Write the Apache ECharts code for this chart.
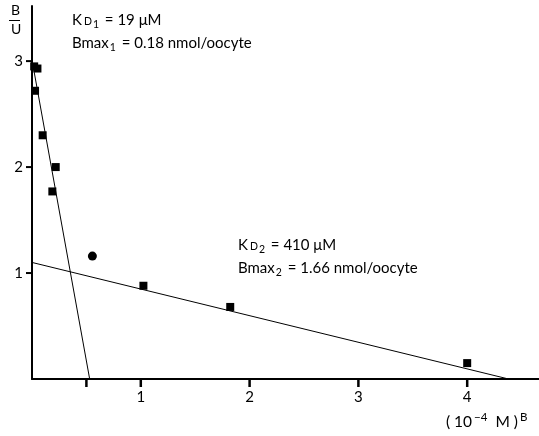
<!DOCTYPE html>
<html>
<head>
<meta charset="utf-8">
<script src="https://cdn.jsdelivr.net/npm/echarts@6/dist/echarts.min.js"></script>
<style>
html,body{margin:0;padding:0;background:#fff;}
#chart{width:539px;height:436px;}
</style>
</head>
<body>
<div id="chart"></div>
<script>
// Scatchard data (B in 10^-4 M, B/U)
const boundX = [0.02, 0.05, 0.028, 0.098, 0.218, 0.187, 0.555, 1.024, 1.822, 4.0];
const ratioY = [2.95, 2.93, 2.72, 2.30, 2.00, 1.77, 1.16, 0.88, 0.68, 0.15];
const roundPointIndex = [6];
// Fitted lines (end points)
const fit1X = [0, 0.53];
const fit1Y = [3.01, 0];
const fit2X = [0, 4.38];
const fit2Y = [1.10, 0];
// Axis ticks and labels
const xTicks = [0.5, 1, 2, 3, 4];
const xLabels = [1, 2, 3, 4];
const yTicks = [1, 2, 3];
const yLabels = [1, 2, 3];

const FONT = 'Lato, "DejaVu Sans", sans-serif';
const chart = echarts.init(document.getElementById('chart'), null, {renderer: 'canvas'});

const points = boundX.map((x, i) => {
  const item = {value: [x, ratioY[i]]};
  if (roundPointIndex.includes(i)) { item.symbol = 'circle'; item.symbolSize = 9; }
  return item;
});

const rich = {
  k: {fontSize: 15, fontFamily: FONT, color: '#000'},
  d: {fontSize: 10.5, fontFamily: FONT, color: '#000', padding: [3, 0, 0, 2]},
  s: {fontSize: 10.5, fontFamily: FONT, color: '#000', padding: [8, 2, 0, 1]},
  t: {fontSize: 15, fontFamily: FONT, color: '#000'}
};

chart.setOption({
  animation: false,
  backgroundColor: '#fff',
  grid: {left: 32, right: 0, top: 6, bottom: 57, containLabel: false},
  xAxis: {
    type: 'value', min: 0, max: 4.66,
    axisLine: {show: true, lineStyle: {color: '#000', width: 2}},
    axisTick: {show: false},
    axisLabel: {customValues: xLabels, color: '#000', fontSize: 15, fontFamily: FONT, margin: 11},
    splitLine: {show: false}
  },
  yAxis: {
    type: 'value', min: 0, max: 3.52,
    axisLine: {show: true, lineStyle: {color: '#000', width: 2}},
    axisTick: {show: false},
    axisLabel: {customValues: yLabels, color: '#000', fontSize: 15, fontFamily: FONT, margin: 9},
    splitLine: {show: false}
  },
  series: [
    {
      type: 'line', data: fit1X.map((x, i) => [x, fit1Y[i]]),
      symbol: 'none', lineStyle: {color: '#000', width: 1}, silent: true
    },
    {
      type: 'line', data: fit2X.map((x, i) => [x, fit2Y[i]]),
      symbol: 'none', lineStyle: {color: '#000', width: 1}, silent: true
    },
    {
      type: 'scatter', data: points, symbol: 'rect', symbolSize: 8,
      itemStyle: {color: '#000', opacity: 1}
    },
    {
      // x-axis tick marks
      type: 'scatter', data: xTicks.map(v => [v, 0]), symbol: 'rect',
      symbolSize: [2.5, 8], symbolOffset: [0, 4], clip: false, silent: true,
      itemStyle: {color: '#000', opacity: 1}
    },
    {
      // y-axis tick marks
      type: 'scatter', data: yTicks.map(v => [0, v]), symbol: 'rect',
      symbolSize: [6, 2], symbolOffset: [-3, 0], clip: false, silent: true,
      itemStyle: {color: '#000', opacity: 1}
    }
  ],
  graphic: [
    {type: 'text', left: 11, top: 3, style: {text: 'B', font: '14px ' + FONT, fill: '#000'}},
    {type: 'line', shape: {x1: 9, y1: 20.5, x2: 20, y2: 20.5}, style: {stroke: '#000', lineWidth: 1}},
    {type: 'text', left: 11, top: 22, style: {text: 'U', font: '14px ' + FONT, fill: '#000'}},
    {type: 'text', left: 72, top: 13, style: {text: '{k|K}{d|D}{s|1}{t| = 19 μM}', rich: rich}},
    {type: 'text', left: 72, top: 36, style: {text: '{t|Bmax}{s|1}{t| = 0.18 nmol/oocyte}', rich: rich}},
    {type: 'text', left: 238, top: 238, style: {text: '{k|K}{d|D}{s|2}{t| = 410 μM}', rich: rich}},
    {type: 'text', left: 238, top: 261, style: {text: '{t|Bmax}{s|2}{t| = 1.66 nmol/oocyte}', rich: rich}},
    {type: 'text', left: 446, top: 411, style: {text: '{t|( 10}{u|−4}{t| M )}{u|B}', rich: Object.assign({}, rich, {
      t: {fontSize: 15.5, fontFamily: FONT, color: '#000'},
      u: {fontSize: 11.5, fontFamily: FONT, color: '#000', padding: [0, 4, 9, 2]}
    })}}
  ]
});
</script>
</body>
</html>
